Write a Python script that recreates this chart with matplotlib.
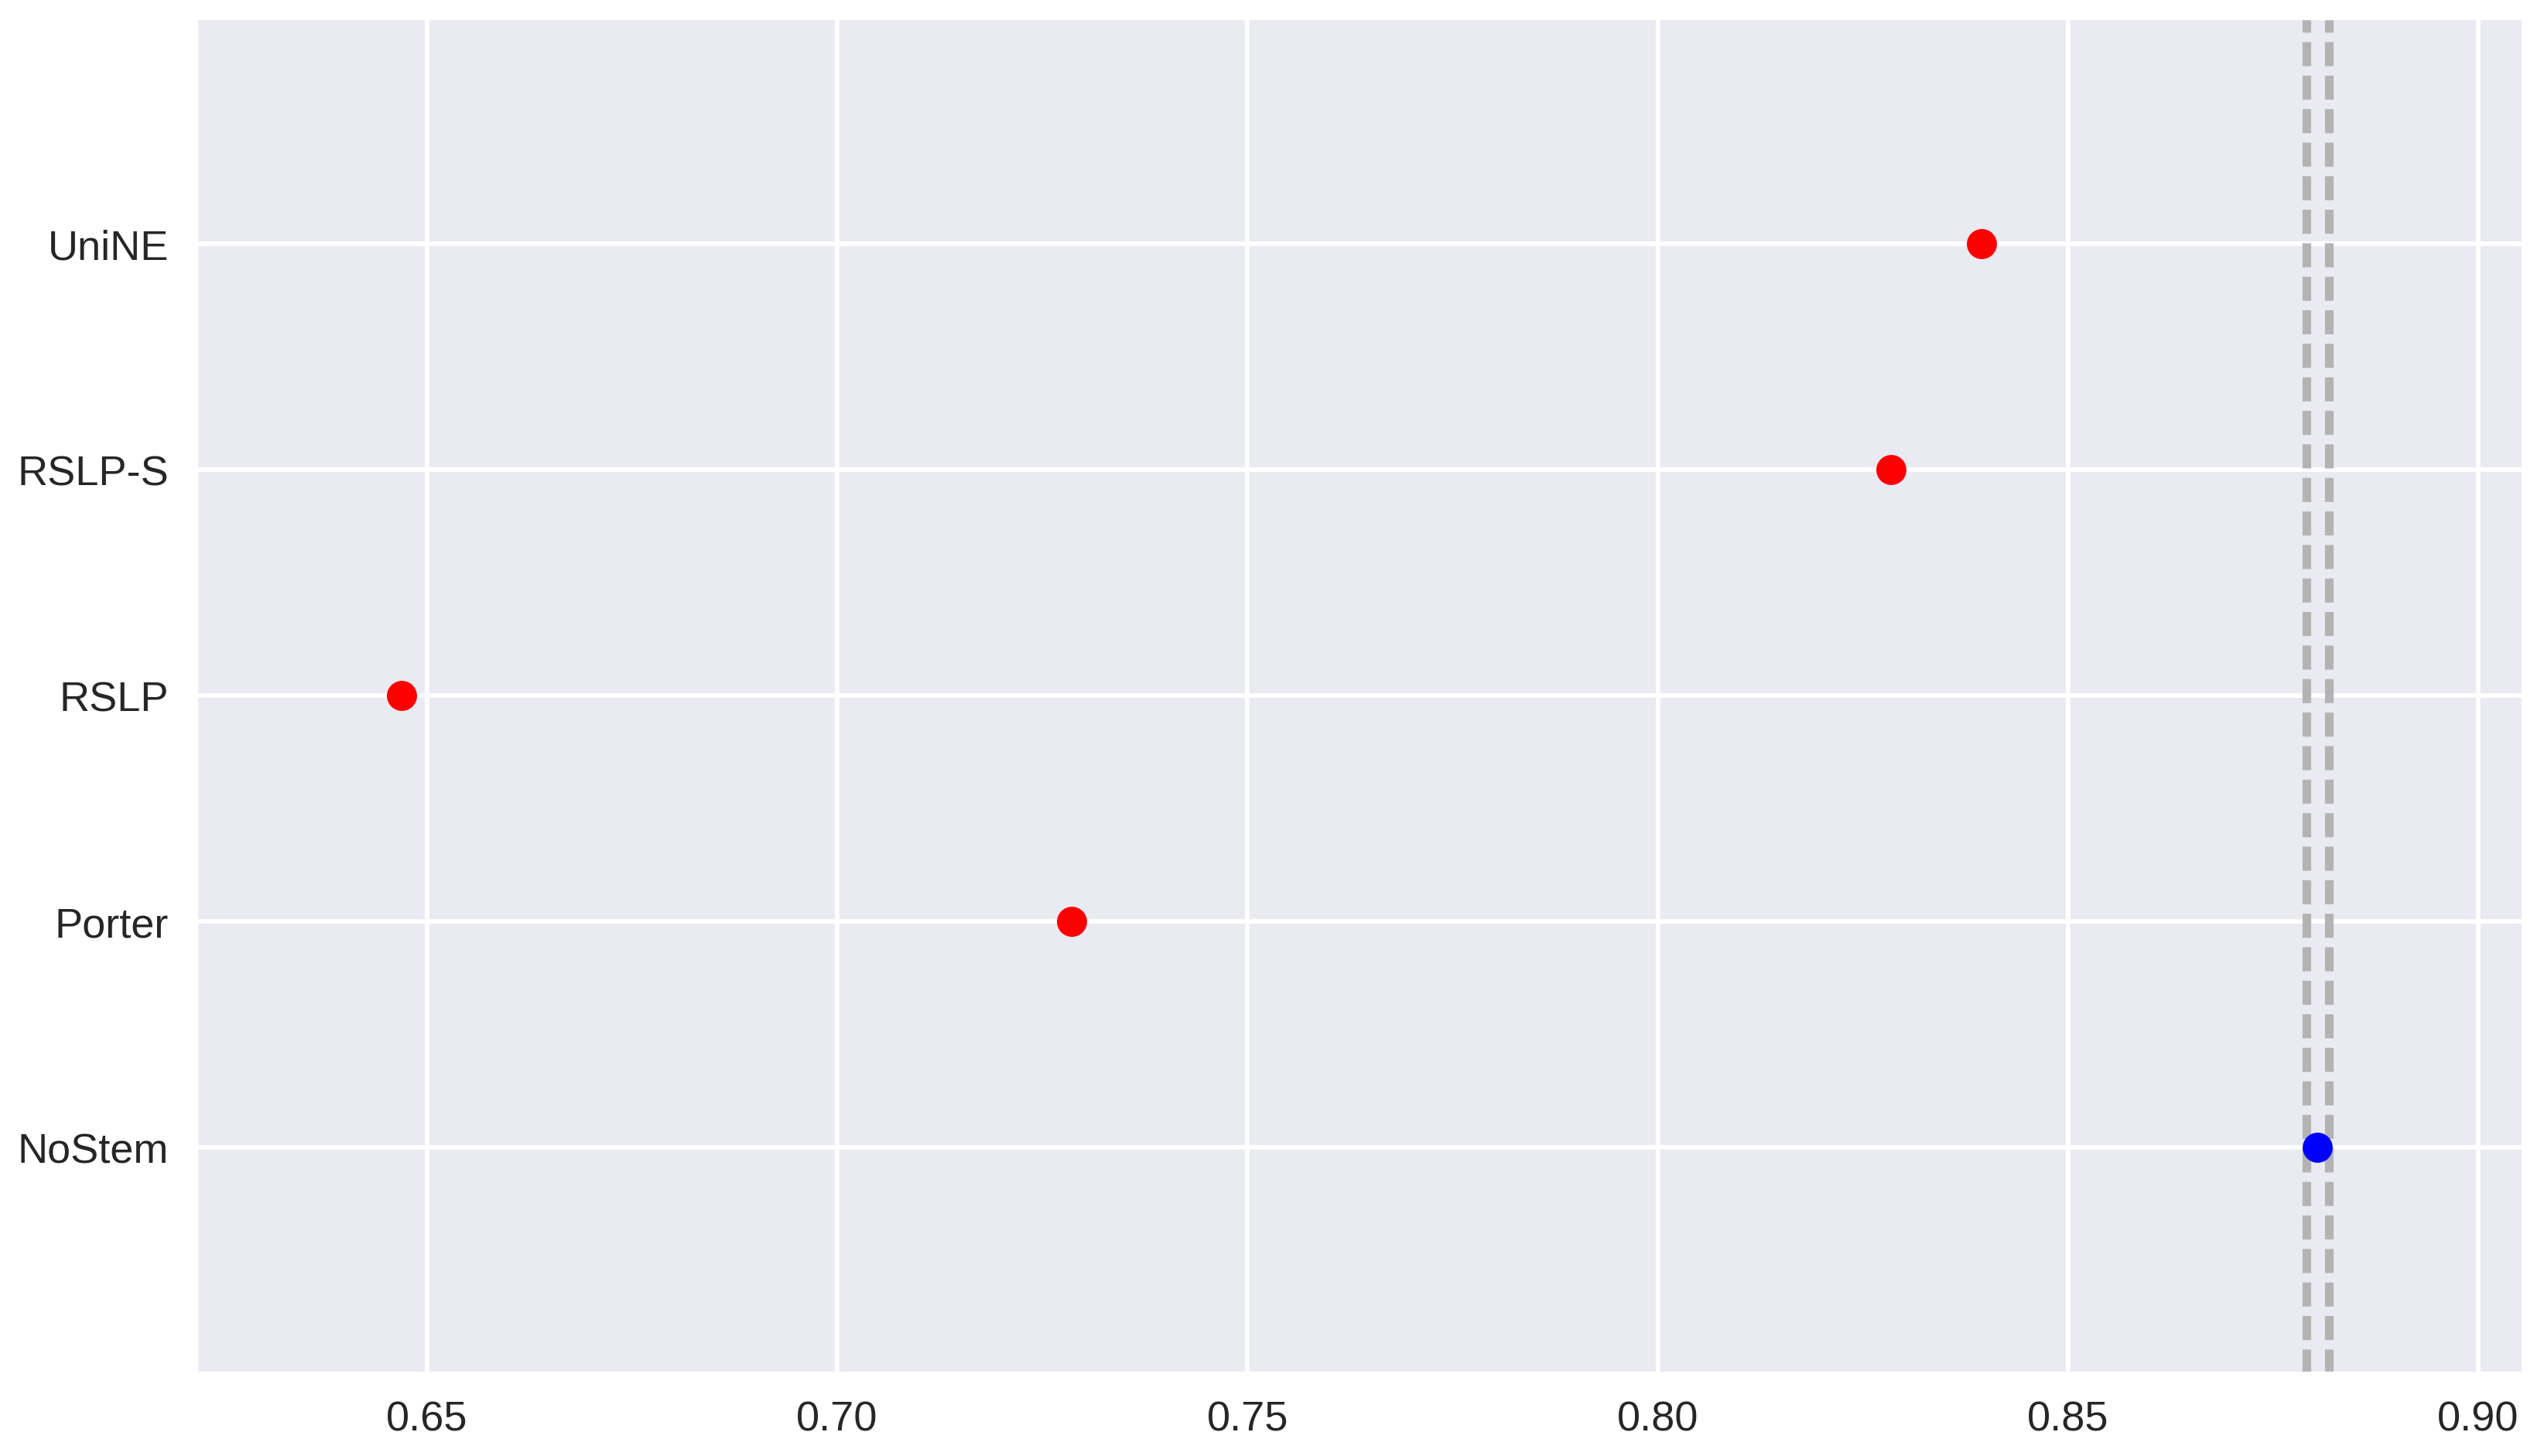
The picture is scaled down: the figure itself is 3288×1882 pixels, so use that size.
# simultaneous comparison plot of stemmers (mean score with interval)

import numpy as np
import matplotlib
matplotlib.use('Agg')
import matplotlib.pyplot as plt
import seaborn as sns

# data, from bottom to top
groups = ['NoStem', 'Porter', 'RSLP', 'RSLP-S', 'UniNE']
means = [0.88043, 0.7286, 0.64686, 0.8284, 0.8395]
halfwidths = [0.0014, 0.0014, 0.0014, 0.0014, 0.0014]
selected = 'NoStem'

sns.set_theme(style='darkgrid', context='talk')
plt.rcParams['font.family'] = ['Liberation Sans', 'DejaVu Sans']

fig = plt.figure(figsize=(16.44, 9.415), dpi=200)
ax = fig.add_axes([0.07695, 0.05698, 0.91484, 0.93027])

means = np.array(means)
halfwidths = np.array(halfwidths)
y = np.arange(len(groups))
sel = groups.index(selected)
others = [i for i in range(len(groups)) if i != sel]

# other groups in red
ax.errorbar(means[others], y[others], xerr=halfwidths[others], marker='o',
            linestyle='None', color='#ff0000', ecolor='#ff0000', markersize=14,
            markeredgewidth=0, zorder=3)
# selected group in blue plus its interval bounds
ax.errorbar(means[sel], y[sel], xerr=halfwidths[sel], marker='o',
            linestyle='None', color='#0000ff', ecolor='#0000ff', markersize=14,
            markeredgewidth=0, zorder=3)
ax.axvline(means[sel] - halfwidths[sel], color='0.7', lw=4, dashes=(2.8, 1.1), zorder=2)
ax.axvline(means[sel] + halfwidths[sel], color='0.7', lw=4, dashes=(2.8, 1.1), zorder=2)

# limits like statsmodels does
lo = np.min(means - halfwidths)
hi = np.max(means + halfwidths)
r = hi - lo
ax.set_xlim([lo - r / 10., hi + r / 10.])
ax.set_ylim([-1, len(groups)])
ax.set_yticks(y)
ax.set_yticklabels(groups)
ax.grid(True, color='white', linewidth=2.1)
ax.tick_params(labelsize=19.5, labelcolor='#262626')

fig.savefig('out.png', dpi=200)
